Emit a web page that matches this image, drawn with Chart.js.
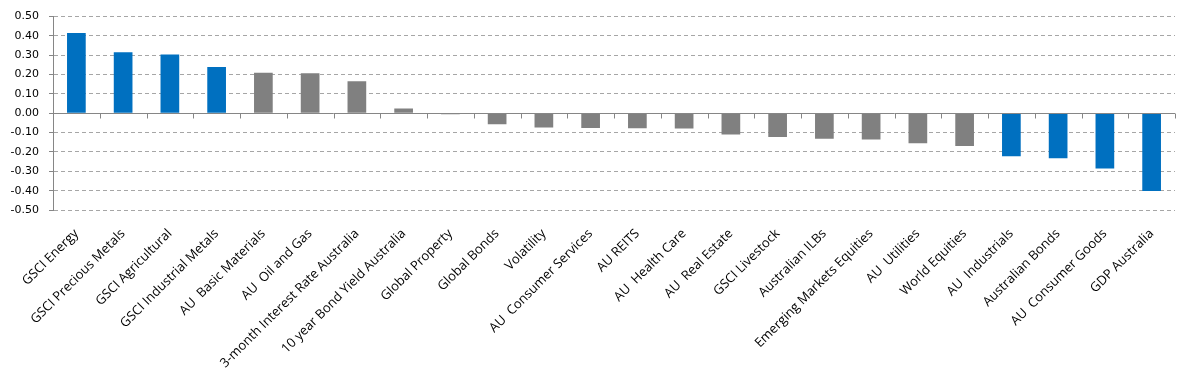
<!DOCTYPE html>
<html>
<head>
<meta charset="utf-8">
<script src="https://cdn.jsdelivr.net/npm/chart.js@4/dist/chart.umd.min.js"></script>
<style>
  html, body { margin: 0; padding: 0; background: #fff; }
  #wrap { width: 1190px; height: 372px; }
</style>
</head>
<body>
<div id="wrap"><canvas id="chart"></canvas></div>
<script>
const categories = [
  'GSCI Energy', 'GSCI Precious Metals', 'GSCI Agricultural', 'GSCI Industrial Metals',
  'AU  Basic Materials', 'AU  Oil and Gas', '3-month Interest Rate Australia',
  '10 year Bond Yield Australia', 'Global Property', 'Global Bonds', 'Volatility',
  'AU  Consumer Services', 'AU REITS', 'AU  Health Care', 'AU  Real Estate',
  'GSCI Livestock', 'Australian ILBs', 'Emerging Markets Equities', 'AU  Utilities',
  'World Equities', 'AU  Industrials', 'Australian Bonds', 'AU  Consumer Goods', 'GDP Australia'
];
const values = [
  0.415, 0.316, 0.304, 0.239, 0.210, 0.207, 0.166, 0.025, -0.005, -0.057, -0.074,
  -0.076, -0.077, -0.079, -0.110, -0.123, -0.131, -0.136, -0.155, -0.169,
  -0.222, -0.232, -0.285, -0.402
];
const yTicks = { min: -0.5, max: 0.5, step: 0.1 };

const BLUE = '#0070C0';
const GREY = '#808080';
const isZero = v => Math.abs(v) < 1e-9;

// small downward tick marks on the zero line, between categories
const zeroTicks = {
  id: 'zeroTicks',
  afterDatasetsDraw(chart) {
    const { ctx, scales: { x, y } } = chart;
    const y0 = Math.round(y.getPixelForValue(0)) + 0.5;
    const half = (x.getPixelForValue(1) - x.getPixelForValue(0)) / 2;
    ctx.save();
    ctx.strokeStyle = '#868686';
    ctx.lineWidth = 1;
    ctx.beginPath();
    ctx.moveTo(x.left, y0);
    ctx.lineTo(x.right, y0);
    for (let i = 0; i <= categories.length; i++) {
      const px = Math.round(x.getPixelForValue(i) - half) + 0.5;
      ctx.moveTo(px, y0);
      ctx.lineTo(px, y0 + 5);
    }
    ctx.stroke();
    ctx.restore();
  }
};

new Chart(document.getElementById('chart'), {
  type: 'bar',
  data: {
    labels: categories,
    datasets: [{
      data: values,
      backgroundColor: ctx => (ctx.dataIndex < 4 || ctx.dataIndex >= categories.length - 4) ? BLUE : GREY,
      borderWidth: 0,
      categoryPercentage: 1,
      barPercentage: 0.4
    }]
  },
  options: {
    responsive: true,
    maintainAspectRatio: false,
    animation: false,
    layout: { padding: { top: 10, right: 15, left: 0, bottom: 0 } },
    plugins: { legend: { display: false }, tooltip: { enabled: false } },
    scales: {
      x: {
        grid: { display: false },
        border: { display: false },
        ticks: {
          autoSkip: false,
          minRotation: 45,
          maxRotation: 45,
          padding: 8,
          color: '#000',
          font: { family: 'Open Sans', size: 13 }
        },
        afterFit: s => { s.height = 162; }
      },
      y: {
        min: yTicks.min,
        max: yTicks.max,
        ticks: {
          stepSize: yTicks.step,
          padding: 10,
          color: '#000',
          font: { family: 'DejaVu Sans', size: 11 },
          callback: v => isZero(v) ? '0.00' : Number(v).toFixed(2)
        },
        grid: {
          color: ctx => isZero(ctx.tick.value) ? 'rgba(0,0,0,0)' : '#A6A6A6',
          tickColor: '#868686',
          tickLength: 4,
          lineWidth: 1
        },
        border: {
          display: true,
          color: '#868686',
          width: 1,
          dash: ctx => (ctx.tick && isZero(ctx.tick.value)) ? [] : [4, 3]
        },
        afterFit: s => { s.width = 53; }
      }
    }
  },
  plugins: [zeroTicks]
});
</script>
</body>
</html>
